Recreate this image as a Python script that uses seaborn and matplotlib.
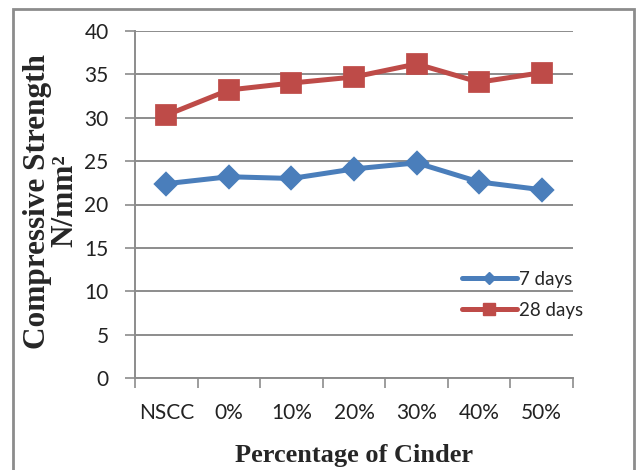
import matplotlib
matplotlib.use("Agg")
import matplotlib.pyplot as plt
from matplotlib.lines import Line2D
from matplotlib.patches import Rectangle
from matplotlib.ticker import FixedLocator
import pandas as pd
import seaborn as sns

# Compressive strength (N/mm^2) by cinder replacement level
categories = ["NSCC", "0%", "10%", "20%", "30%", "40%", "50%"]
strength_7 = [22.4, 23.2, 23.0, 24.1, 24.8, 22.6, 21.7]
strength_28 = [30.3, 33.2, 34.0, 34.7, 36.2, 34.1, 35.2]
series_names = ["7 days", "28 days"]
y_ticks = [0, 5, 10, 15, 20, 25, 30, 35, 40]

blue = "#4A7EBB"
red = "#BE4B48"
grid_grey = "#8C8C8C"

sns.set_theme(style="white")
plt.rcParams["font.family"] = ["Lato", "DejaVu Sans"]

fig = plt.figure(figsize=(6.36, 4.70), dpi=100)
ax = fig.add_axes([135 / 636, 1 - 378 / 470, (573 - 135) / 636, (378 - 31) / 470])

df7 = pd.DataFrame({"cat": categories, "val": strength_7})
df28 = pd.DataFrame({"cat": categories, "val": strength_28})

sns.pointplot(data=df7, x="cat", y="val", order=categories, color=blue,
              markers="D", markersize=10.5, linewidth=3.6, ax=ax)
sns.pointplot(data=df28, x="cat", y="val", order=categories, color=red,
              markers="s", markersize=13.5, linewidth=3.6, ax=ax)

ax.set_xlim(-0.5, len(categories) - 0.5)
ax.set_ylim(0, 40)
ax.set_yticks(y_ticks)
ax.yaxis.grid(True, color=grid_grey, linewidth=1.4)
ax.xaxis.grid(False)
ax.set_axisbelow(True)

for side in ["top", "right"]:
    ax.spines[side].set_visible(False)
for side in ["left", "bottom"]:
    ax.spines[side].set_color(grid_grey)
    ax.spines[side].set_linewidth(1.4)

ax.tick_params(axis="y", which="major", left=True, length=7, width=1.2,
               color=grid_grey, pad=12, labelsize=15, labelcolor="#222222")
ax.tick_params(axis="x", which="major", bottom=False, length=0, pad=18,
               labelsize=15, labelcolor="#222222")
ax.xaxis.set_minor_locator(FixedLocator([i - 0.5 for i in range(len(categories) + 1)]))
ax.tick_params(axis="x", which="minor", bottom=True, length=7, width=1.2,
               color=grid_grey)

ax.set_xlabel("Percentage of Cinder", family="Liberation Serif",
              fontweight="bold", fontsize=19, labelpad=15)
ax.set_ylabel("Compressive Strength\nN/mm²", family="Liberation Serif",
              fontweight="bold", fontsize=22.5, linespacing=0.9)
ax.yaxis.set_label_coords(-0.128, 0.51)

handles = [
    Line2D([], [], color=blue, marker="D", markersize=6, linewidth=3.6),
    Line2D([], [], color=red, marker="s", markersize=8, linewidth=3.6),
]
ax.legend(handles, series_names, loc="center left", bbox_to_anchor=(0.73, 0.24),
          frameon=False, fontsize=13.5, handlelength=2.9, handletextpad=0.15,
          labelspacing=0.75, borderaxespad=0)

# Chart border
fig.patches.append(Rectangle((13 / 636, -0.05), (634 - 13) / 636, 1 - 9 / 470 + 0.05,
                             transform=fig.transFigure, fill=False,
                             edgecolor="#8C8C8C", linewidth=2))

fig.savefig("out.png", dpi=100)
